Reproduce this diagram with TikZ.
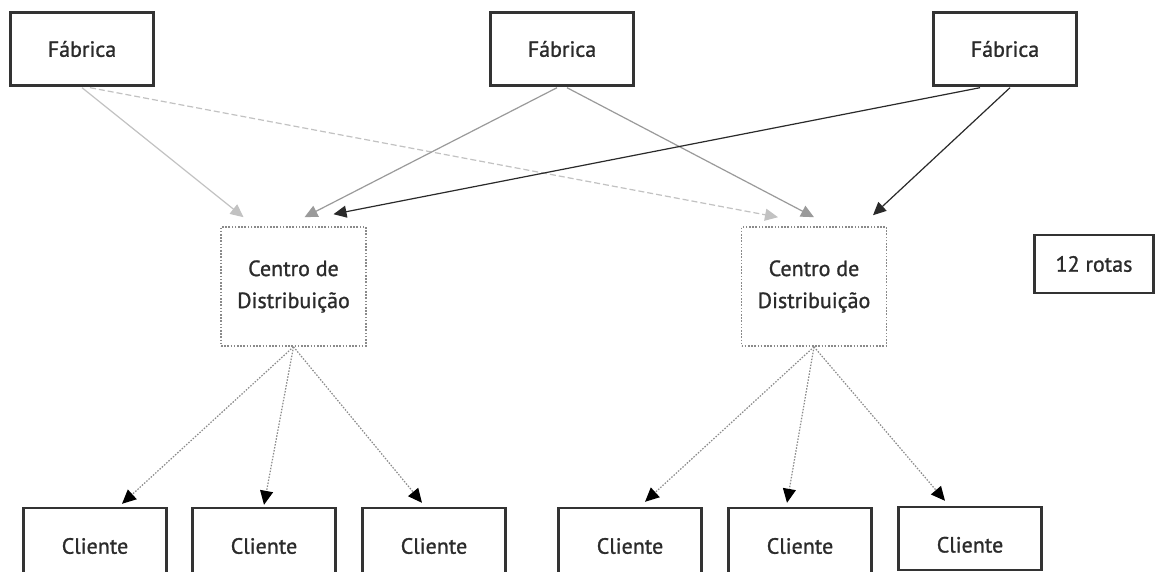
\documentclass[tikz,border=0pt]{standalone}
\usepackage{fontspec}
\setmainfont{PT Sans}
\newfontfamily\lblfont{PT Sans}[FakeBold=1.1]
\usetikzlibrary{arrows.meta,calc}
\definecolor{boxline}{HTML}{333333}
\definecolor{lightflow}{HTML}{C2C2C2}
\definecolor{midflow}{HTML}{9A9A9A}
\definecolor{darkflow}{HTML}{2A2A2A}
\definecolor{dotline}{HTML}{8A8A8A}
\definecolor{labeltext}{HTML}{2B2B2B}
\begin{document}
\begin{tikzpicture}[x=1pt,y=-1pt,
  solidbox/.style={draw=boxline,line width=2.4pt,fill=white,inner sep=0pt,
    minimum width=143pt,minimum height=73pt,text=labeltext,
    font=\lblfont\fontsize{22}{26}\selectfont},
  cdbox/.style={draw=dotline,line width=1.6pt,dash pattern=on 1.6pt off 1.6pt,
    inner sep=0pt,minimum width=145pt,minimum height=119pt,align=center,
    text=labeltext,font=\lblfont\fontsize{22}{32}\selectfont},
  tipshape/.style={-{Triangle[length=13pt,width=12pt]}},
  lightarrow/.style={tipshape,draw=lightflow,line width=1.2pt},
  lightdash/.style={tipshape,draw=lightflow,line width=1.2pt,dash pattern=on 6pt off 3pt},
  midarrow/.style={tipshape,draw=midflow,line width=1.2pt},
  darkarrow/.style={tipshape,draw=darkflow,line width=1.2pt},
  clientarrow/.style={draw=dotline,line width=1.2pt,dash pattern=on 1.5pt off 1.5pt,
    -{Triangle[length=14pt,width=13pt,color=black]}}]
\useasboundingbox (0,0) rectangle (1161,572);
\clip (0,0) rectangle (1161,572);
\fill[white] (0,0) rectangle (1161,572);

% factories
\node[solidbox] (f1) at (82,49) {Fábrica};
\node[solidbox] (f2) at (562,49) {Fábrica};
\node[solidbox] (f3) at (1005,49) {Fábrica};

% distribution centres
\node[cdbox] (cd1) at (293.5,286.5) {Centro de\\Distribuição};
\node[cdbox] (cd2) at (814,286.5) {Centro de\\Distribuição};

% route count
\node[solidbox,line width=2.2pt,minimum width=119pt,minimum height=58pt]
  (rotas) at (1094,264) {12 rotas};

% clients
\node[solidbox,minimum height=76pt] (c1) at (95,546) {Cliente};
\node[solidbox,minimum height=76pt] (c2) at (264,546) {Cliente};
\node[solidbox,minimum height=76pt] (c3) at (434,546) {Cliente};
\node[solidbox,minimum height=76pt] (c4) at (630,546) {Cliente};
\node[solidbox,minimum height=76pt] (c5) at (800,546) {Cliente};
\node[solidbox,minimum height=63pt] (c6) at (970,538.5)
  {\raisebox{-14pt}[0pt][0pt]{Cliente}};

% factory to distribution centre flows
\draw[lightdash] ($(f1.south)+(8,1)$) -- ($(cd2.north)+(-36,-9)$);
\draw[lightarrow] ($(f1.south)+(0,1)$) -- ($(cd1.north)+(-50,-9)$);
\draw[midarrow] ($(f2.south)+(-5,1)$) -- ($(cd1.north)+(11,-9)$);
\draw[midarrow] ($(f2.south)+(5,1)$) -- ($(cd2.north)+(0,-9)$);
\draw[darkarrow] ($(f3.south)+(-25,1)$) -- ($(cd1.north)+(40,-12)$);
\draw[darkarrow] ($(f3.south)+(5,1)$) -- ($(cd2.north)+(59,-11)$);

% distribution centre to client flows
\draw[clientarrow] (cd1.south) -- ($(c1.north)+(27,-3)$);
\draw[clientarrow] (cd1.south) -- ($(c2.north)+(0,-2)$);
\draw[clientarrow] (cd1.south) -- ($(c3.north)+(-12,-4)$);
\draw[clientarrow] (cd2.south) -- ($(c4.north)+(15,-5)$);
\draw[clientarrow] (cd2.south) -- ($(c5.north)+(-13,-4)$);
\draw[clientarrow] (cd2.south) -- ($(c6.north)+(-25,-5)$);
\end{tikzpicture}
\end{document}
